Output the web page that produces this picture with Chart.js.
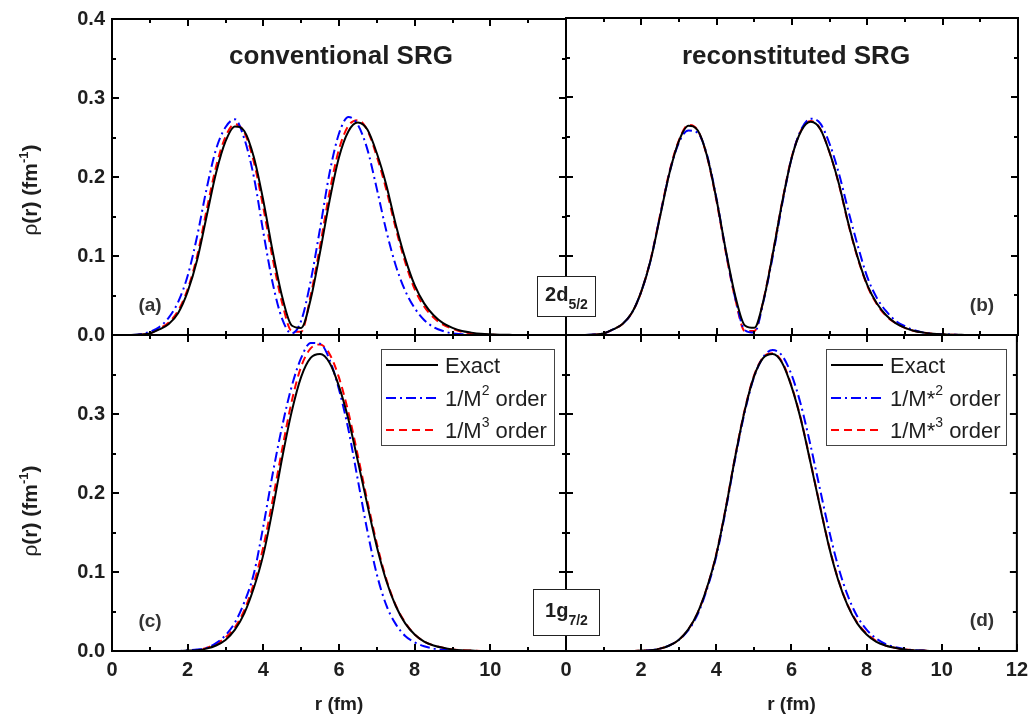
<!DOCTYPE html>
<html><head><meta charset="utf-8">
<script src="https://cdn.jsdelivr.net/npm/chart.js@4.4.1/dist/chart.umd.min.js"></script>
<style>
html,body{margin:0;padding:0;background:#fff;}
#wrap{position:relative;width:1035px;height:721px;overflow:hidden;background:#fff;}
canvas{position:absolute;left:0;top:0;}
</style></head><body>
<div id="wrap">
<canvas id="ca" width="1035" height="721"></canvas>
<canvas id="cb" width="1035" height="721"></canvas>
<canvas id="cc" width="1035" height="721"></canvas>
<canvas id="cd" width="1035" height="721"></canvas>
</div>
<script>
// ---------------- data ----------------
const R = [0,0.25,0.5,0.75,1,1.25,1.5,1.75,2,2.25,2.5,2.75,3,3.25,3.5,3.75,4,4.25,4.5,4.75,5,5.25,5.5,5.75,6,6.25,6.5,6.75,7,7.25,7.5,7.75,8,8.25,8.5,8.75,9,9.25,9.5,9.75,10,10.25,10.5,10.75,11,11.25,11.5,11.75,12];

// 2d5/2 state (panels a, b)
const exact2d = [0,0,0,0.0005,0.002,0.007,0.014,0.028,0.055,0.095,0.150,0.205,0.245,0.264,0.258,0.225,0.170,0.105,0.048,0.012,0.009,0.045,0.105,0.170,0.225,0.258,0.269,0.260,0.230,0.190,0.140,0.097,0.063,0.040,0.025,0.015,0.009,0.005,0.003,0.0015,0.0008,0.0004,0.0002,0,0,0,0,0,0];
const conv2dM2 = [0,0,0,0.001,0.004,0.010,0.022,0.042,0.075,0.125,0.185,0.235,0.263,0.273,0.248,0.200,0.130,0.065,0.020,0.002,0.018,0.068,0.135,0.205,0.255,0.276,0.266,0.235,0.185,0.132,0.088,0.056,0.034,0.019,0.010,0.005,0.002,0.001,0,0,0,0,0,0,0,0,0,0,0];
const conv2dM3 = [0,0,0,0.0005,0.002,0.008,0.016,0.031,0.058,0.100,0.158,0.213,0.251,0.267,0.256,0.219,0.161,0.096,0.040,0.005,0.004,0.050,0.113,0.181,0.235,0.265,0.272,0.259,0.226,0.184,0.135,0.092,0.058,0.036,0.022,0.013,0.008,0.004,0.002,0.001,0.0005,0,0,0,0,0,0,0,0];
const reco2dM2 = [0,0,0,0.0005,0.002,0.007,0.014,0.028,0.055,0.095,0.151,0.205,0.243,0.258,0.255,0.226,0.171,0.104,0.045,0.006,0.003,0.044,0.102,0.168,0.225,0.260,0.273,0.267,0.241,0.203,0.156,0.112,0.073,0.047,0.030,0.018,0.011,0.006,0.003,0.0015,0.0008,0.0004,0,0,0,0,0,0,0];
const reco2dM3 = [0,0,0,0.0005,0.002,0.007,0.014,0.028,0.055,0.096,0.152,0.207,0.246,0.265,0.258,0.224,0.168,0.102,0.044,0.005,0.005,0.046,0.106,0.171,0.226,0.259,0.270,0.260,0.230,0.189,0.139,0.096,0.062,0.039,0.024,0.015,0.009,0.005,0.003,0.0015,0.0008,0.0004,0,0,0,0,0,0,0];

// 1g7/2 state (panels c, d)
const exact1g = [0,0,0,0,0,0,0,0,0.0005,0.001,0.003,0.007,0.014,0.027,0.048,0.080,0.122,0.180,0.245,0.303,0.347,0.371,0.376,0.365,0.335,0.293,0.240,0.185,0.132,0.089,0.057,0.035,0.021,0.012,0.007,0.004,0.002,0.001,0.0005,0,0,0,0,0,0,0,0,0,0];
const conv1gM2 = [0,0,0,0,0,0,0,0,0.001,0.002,0.004,0.010,0.020,0.036,0.062,0.098,0.158,0.225,0.285,0.335,0.371,0.390,0.389,0.369,0.331,0.280,0.216,0.152,0.097,0.058,0.034,0.019,0.011,0.006,0.003,0.0015,0.0005,0,0,0,0,0,0,0,0,0,0,0,0];
const conv1gM3 = [0,0,0,0,0,0,0,0,0,0.001,0.004,0.009,0.017,0.030,0.052,0.086,0.132,0.192,0.256,0.316,0.360,0.383,0.388,0.376,0.346,0.302,0.247,0.190,0.136,0.091,0.058,0.036,0.021,0.012,0.007,0.004,0.002,0.001,0.0005,0,0,0,0,0,0,0,0,0,0];
const reco1gM2 = [0,0,0,0,0,0,0,0,0.0005,0.001,0.003,0.007,0.014,0.026,0.046,0.078,0.120,0.178,0.243,0.301,0.346,0.372,0.381,0.374,0.350,0.312,0.262,0.207,0.153,0.106,0.070,0.044,0.027,0.016,0.009,0.005,0.0025,0.001,0.0005,0,0,0,0,0,0,0,0,0,0];
const reco1gM3 = [0,0,0,0,0,0,0,0,0.0005,0.001,0.003,0.007,0.014,0.027,0.048,0.080,0.123,0.181,0.246,0.304,0.348,0.372,0.377,0.366,0.336,0.294,0.241,0.186,0.133,0.090,0.058,0.036,0.022,0.013,0.007,0.004,0.002,0.001,0.0005,0,0,0,0,0,0,0,0,0,0];

// tick labels
const xLabelsLeft  = ['0','2','4','6','8','10'];
const xLabelsRight = ['0','2','4','6','8','10','12'];
const yLabelsTop    = ['0.0','0.1','0.2','0.3','0.4'];
const yLabelsBottom = ['0.0','0.1','0.2','0.3'];

// ---------------- styling ----------------
const FONT = '"Liberation Sans", Arial, Helvetica, sans-serif';
const TXT = '#1e1e1e';
const DASH_BLUE = [10,4,2,4];
const DASH_RED = [8,5];

function pts(vals){ return R.map((r,i)=>({x:r, y:vals[i]})); }
function ds(label, vals, color, dash){
  return {label, data: pts(vals), borderColor: color, borderWidth: 2, borderDash: dash,
          pointRadius: 0, fill: false, cubicInterpolationMode: 'monotone'};
}

function drawRich(ctx, parts, x, y, align){
  let w = 0;
  parts.forEach(p => { ctx.font = p.f; p.w = ctx.measureText(p.t).width; w += p.w; });
  let cx = align === 'center' ? x - w/2 : x;
  ctx.textAlign = 'left'; ctx.textBaseline = 'alphabetic';
  parts.forEach(p => { ctx.font = p.f; ctx.fillText(p.t, cx, y + (p.dy||0)); cx += p.w; });
}

function drawYTitle(ctx, cx, cy){
  ctx.save();
  ctx.translate(cx, cy);
  ctx.rotate(-Math.PI/2);
  ctx.fillStyle = TXT;
  drawRich(ctx, [
    {t:'\u03C1', f:'21px '+FONT},
    {t:'(r) (fm', f:'bold 21px '+FONT},
    {t:'-1', f:'bold 13px '+FONT, dy:-9},
    {t:')', f:'bold 21px '+FONT}
  ], 0, 7, 'center');
  ctx.restore();
}

function drawBoxLabel(ctx, box, main, sub){
  ctx.save();
  ctx.fillStyle = '#fff';
  ctx.fillRect(box.x, box.y, box.w, box.h);
  ctx.strokeStyle = '#222'; ctx.lineWidth = 1; ctx.setLineDash([]);
  ctx.strokeRect(box.x+0.5, box.y+0.5, box.w-1, box.h-1);
  ctx.fillStyle = TXT;
  const cy = box.y + box.h/2;
  drawRich(ctx, [
    {t:main, f:'bold 20px '+FONT},
    {t:sub, f:'bold 14px '+FONT, dy:8}
  ], box.x + box.w/2, cy + 4, 'center');
  ctx.restore();
}

function drawLegend(ctx, L){
  ctx.save();
  ctx.fillStyle = '#fff';
  ctx.fillRect(L.x, L.y, L.w, L.h);
  ctx.strokeStyle = '#444'; ctx.lineWidth = 1;
  ctx.strokeRect(L.x+0.5, L.y+0.5, L.w-1, L.h-1);
  L.items.forEach(it => {
    ctx.strokeStyle = it.color; ctx.lineWidth = 2; ctx.setLineDash(it.dash);
    ctx.beginPath(); ctx.moveTo(L.lx0, it.y); ctx.lineTo(L.lx1, it.y); ctx.stroke();
    ctx.setLineDash([]);
    ctx.fillStyle = TXT;
    drawRich(ctx, it.parts, L.tx, it.y + 8, 'left');
  });
  ctx.restore();
}

const deco = {
  id: 'deco',
  afterDraw(chart, args, o){
    const ctx = chart.ctx, ca = chart.chartArea, xs = chart.scales.x, ys = chart.scales.y;
    ctx.save();
    ctx.strokeStyle = '#000'; ctx.setLineDash([]);
    ctx.lineWidth = 2;
    ctx.beginPath();
    for (let k = 0; k <= 12; k++){
      const px = Math.round(xs.getPixelForValue(k));
      const L = (k % 2 === 0) ? 7 : 4;
      ctx.moveTo(px, ca.bottom); ctx.lineTo(px, ca.bottom - L);
      ctx.moveTo(px, ca.top); ctx.lineTo(px, ca.top + L);
    }
    for (let k = 0; k <= 8; k++){
      const py = Math.round(ys.getPixelForValue(k * 0.05));
      const L = (k % 2 === 0) ? 7 : 4;
      ctx.moveTo(ca.left, py); ctx.lineTo(ca.left + L, py);
      ctx.moveTo(ca.right, py); ctx.lineTo(ca.right - L, py);
    }
    ctx.stroke();
    ctx.strokeRect(ca.left, ca.top, ca.right - ca.left, ca.bottom - ca.top);

    ctx.fillStyle = TXT;
    if (o.title){
      ctx.font = 'bold 26px ' + FONT; ctx.textAlign = 'center'; ctx.textBaseline = 'alphabetic';
      ctx.fillText(o.title, o.titleX, 64);
    }
    if (o.tag){
      ctx.fillStyle = '#333';
      ctx.font = 'bold 19px ' + FONT; ctx.textAlign = 'center'; ctx.textBaseline = 'middle';
      ctx.fillText(o.tag, o.tagX, o.tagY);
    }
    if (o.yTitle) drawYTitle(ctx, 30, o.yTitle);
    if (o.legend) drawLegend(ctx, o.legend);
    if (o.boxes) o.boxes.forEach(b => drawBoxLabel(ctx, b.box, b.main, b.sub));
    ctx.restore();
  }
};

function mk(id, cfg){
  const yOpts = {
    type: 'linear', min: 0, max: 0.4, display: cfg.showY,
    grid: {display: false, drawTicks: false}, border: {display: false},
    ticks: {stepSize: 0.1, color: TXT, padding: 7, font: {family: FONT, size: 20, weight: 'bold'},
            callback: v => { const s = Number(v).toFixed(1); return cfg.yLabels.includes(s) ? s : ''; }},
    afterFit: s => { s.width = cfg.showY ? 112 : 0; }
  };
  const xOpts = {
    type: 'linear', min: 0, max: 12, display: cfg.showX,
    grid: {display: false, drawTicks: false}, border: {display: false},
    ticks: {stepSize: 2, color: TXT, padding: 7, maxRotation: 0, autoSkip: false,
            font: {family: FONT, size: 20, weight: 'bold'},
            callback: v => { const s = String(v); return cfg.xLabels.includes(s) ? s : ''; }},
    title: {display: cfg.showX, text: 'r (fm)', color: TXT, padding: {top: 0, bottom: 5},
            font: {family: FONT, size: 19, weight: 'bold'}},
    afterFit: s => { s.height = cfg.showX ? 70 : 0; }
  };
  return new Chart(document.getElementById(id), {
    type: 'line',
    data: {datasets: cfg.datasets},
    options: {
      responsive: false, animation: false, events: [],
      layout: {padding: cfg.padding},
      scales: {x: xOpts, y: yOpts},
      plugins: {legend: {display: false}, tooltip: {enabled: false}, deco: cfg.deco}
    },
    plugins: [deco]
  });
}

const legendParts = (lbl, sup) => [
  {t: lbl, f: '22px ' + FONT},
  {t: sup, f: '14px ' + FONT, dy: -11},
  {t: ' order', f: '22px ' + FONT}
];

mk('ca', {
  showX: false, showY: true, xLabels: xLabelsLeft, yLabels: yLabelsTop,
  padding: {left: 0, top: 18, right: 469, bottom: 386},
  datasets: [ds('Exact', exact2d, '#000', []), ds('1/M2', conv2dM2, '#0000ff', DASH_BLUE), ds('1/M3', conv2dM3, '#ff0000', DASH_RED)],
  deco: {title: 'conventional SRG', titleX: 341, tag: '(a)', tagX: 150, tagY: 306, yTitle: 190}
});
mk('cb', {
  showX: false, showY: false, xLabels: xLabelsRight, yLabels: yLabelsTop,
  padding: {left: 566, top: 18, right: 17, bottom: 386},
  datasets: [ds('Exact', exact2d, '#000', []), ds('1/M*2', reco2dM2, '#0000ff', DASH_BLUE), ds('1/M*3', reco2dM3, '#ff0000', DASH_RED)],
  deco: {title: 'reconstituted SRG', titleX: 796, tag: '(b)', tagX: 982, tagY: 306}
});
mk('cc', {
  showX: true, showY: true, xLabels: xLabelsLeft, yLabels: yLabelsBottom,
  padding: {left: 0, top: 335, right: 469, bottom: 0},
  datasets: [ds('Exact', exact1g, '#000', []), ds('1/M2', conv1gM2, '#0000ff', DASH_BLUE), ds('1/M3', conv1gM3, '#ff0000', DASH_RED)],
  deco: {tag: '(c)', tagX: 150, tagY: 622, yTitle: 511,
    legend: {x: 381, y: 349, w: 174, h: 97, lx0: 386, lx1: 438, tx: 445, items: [
      {y: 365, color: '#000', dash: [], parts: [{t: 'Exact', f: '22px ' + FONT}]},
      {y: 398, color: '#0000ff', dash: DASH_BLUE, parts: legendParts('1/M', '2')},
      {y: 430, color: '#ff0000', dash: DASH_RED, parts: legendParts('1/M', '3')}
    ]}}
});
mk('cd', {
  showX: true, showY: false, xLabels: xLabelsRight, yLabels: yLabelsBottom,
  padding: {left: 566, top: 335, right: 17, bottom: 0},
  datasets: [ds('Exact', exact1g, '#000', []), ds('1/M*2', reco1gM2, '#0000ff', DASH_BLUE), ds('1/M*3', reco1gM3, '#ff0000', DASH_RED)],
  deco: {tag: '(d)', tagX: 982, tagY: 621,
    legend: {x: 826, y: 349, w: 181, h: 97, lx0: 831, lx1: 883, tx: 890, items: [
      {y: 365, color: '#000', dash: [], parts: [{t: 'Exact', f: '22px ' + FONT}]},
      {y: 398, color: '#0000ff', dash: DASH_BLUE, parts: legendParts('1/M*', '2')},
      {y: 430, color: '#ff0000', dash: DASH_RED, parts: legendParts('1/M*', '3')}
    ]},
    boxes: [
      {box: {x: 537, y: 276, w: 59, h: 41}, main: '2d', sub: '5/2'},
      {box: {x: 533, y: 589, w: 67, h: 47}, main: '1g', sub: '7/2'}
    ]}
});
</script>
</body></html>
